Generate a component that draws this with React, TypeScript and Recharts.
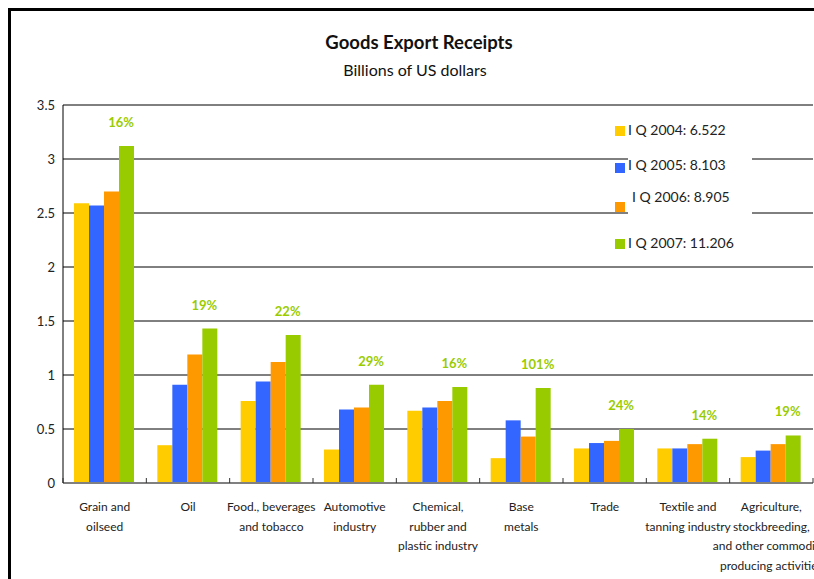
import React from 'react';
import { BarChart, Bar, XAxis, YAxis, CartesianGrid, LabelList } from 'recharts';

const categories: string[][] = [
  ['Grain and', 'oilseed'],
  ['Oil'],
  ['Food., beverages', 'and tobacco'],
  ['Automotive', 'industry'],
  ['Chemical,', 'rubber and', 'plastic industry'],
  ['Base', 'metals'],
  ['Trade'],
  ['Textile and', 'tanning industry'],
  ['Agriculture,', 'stockbreeding,', 'and other commodity-', 'producing activities'],
];
const q2004 = [2.59, 0.35, 0.76, 0.31, 0.67, 0.23, 0.32, 0.32, 0.24];
const q2005 = [2.57, 0.91, 0.94, 0.68, 0.70, 0.58, 0.37, 0.32, 0.30];
const q2006 = [2.70, 1.19, 1.12, 0.70, 0.76, 0.43, 0.39, 0.36, 0.36];
const q2007 = [3.12, 1.43, 1.37, 0.91, 0.89, 0.88, 0.50, 0.41, 0.44];
const growth = ['16%', '19%', '22%', '29%', '16%', '101%', '24%', '14%', '19%'];
const yTicks = [0, 0.5, 1, 1.5, 2, 2.5, 3, 3.5];

const seriesNames = ['I Q 2004: 6.522', 'I Q 2005: 8.103', 'I Q 2006: 8.905', 'I Q 2007: 11.206'];
const seriesKeys = ['q2004', 'q2005', 'q2006', 'q2007'];
const seriesColors = ['#FFCC00', '#3366FF', '#FF9900', '#99CC00'];

const data = categories.map((c, i) => ({
  name: c.join(' '),
  lines: c,
  q2004: q2004[i],
  q2005: q2005[i],
  q2006: q2006[i],
  q2007: q2007[i],
  pct: growth[i],
}));

const CategoryTick = (props: any) => {
  const { x, y, payload, index } = props;
  const row = data[index] || data.find((d) => d.name === payload.value);
  const lines: string[] = row ? row.lines : [String(payload.value)];
  const half = payload && typeof payload.offset === 'number' && payload.offset > 0 ? payload.offset : 750 / 18;
  const axisY = y - 8;
  return (
    <g>
      <line x1={x + half} x2={x + half} y1={axisY} y2={axisY - 5} stroke="#333" strokeWidth={1} />
      {index === 0 && <line x1={x - half} x2={x - half} y1={axisY} y2={axisY - 5} stroke="#333" strokeWidth={1} />}
      {lines.map((l, i) => (
        <text key={i} x={x} y={axisY + 28 + i * 19.7} textAnchor="middle" fontSize={12} fill="#222">
          {l}
        </text>
      ))}
    </g>
  );
};

const PctLabel = (props: any) => {
  const { x, y, value } = props;
  return (
    <text x={Number(x) + 2} y={Number(y) - 19} textAnchor="middle" fontSize={13} fontWeight="bold" fill="#99CC00">
      {value}
    </text>
  );
};

export default function App() {
  return (
    <div style={{ position: 'fixed', left: 8, top: 8, width: 806, height: 571, overflow: 'hidden', fontFamily: 'Lato, "Open Sans", sans-serif', background: '#fff' }}>
      <style>{'html,body{overflow:hidden;}'}</style>
      <BarChart
        width={860}
        height={600}
        data={data}
        margin={{ top: 97, right: 55, bottom: 0, left: 0 }}
        barCategoryGap={11}
        barGap={0}
      >
        <CartesianGrid vertical={false} stroke="#000" strokeWidth={1} />
        <XAxis
          dataKey="name"
          height={125}
          interval={0}
          tickLine={false}
          axisLine={{ stroke: '#808080', strokeWidth: 2 }}
          tick={<CategoryTick />}
        />
        <YAxis
          width={55}
          domain={[0, 3.5]}
          ticks={yTicks}
          interval={0}
          tickLine={false}
          axisLine={{ stroke: '#000', strokeWidth: 1 }}
          tick={{ fontSize: 13, fill: '#222' }}
        />
        {seriesKeys.map((k, i) => (
          <Bar key={k} dataKey={k} fill={seriesColors[i]} isAnimationActive={false}>
            {i === 3 && <LabelList dataKey="pct" content={<PctLabel />} />}
          </Bar>
        ))}
      </BarChart>
      <div style={{ position: 'absolute', left: 0, width: 822, top: 23, textAlign: 'center', fontSize: 18.5, fontWeight: 'bold', lineHeight: '22px', color: '#111' }}>
        Goods Export Receipts
      </div>
      <div style={{ position: 'absolute', left: 0, width: 814, top: 51, textAlign: 'center', fontSize: 16, lineHeight: '22px', color: '#111' }}>
        Billions of US dollars
      </div>
      <div style={{ position: 'absolute', left: 620, top: 110, width: 124, height: 137, background: '#fff' }} />
      {seriesNames.map((n, i) => {
        const sqTop = [118, 155, 194, 231][i];
        const txtCenter = [122, 157, 189, 235][i];
        return (
          <React.Fragment key={n}>
            <div style={{ position: 'absolute', left: 607, top: sqTop, width: 10, height: 10, background: seriesColors[i] }} />
            <div style={{ position: 'absolute', left: i === 2 ? 624 : 620, top: txtCenter - 9, lineHeight: '18px', fontSize: 14, color: '#222', whiteSpace: 'nowrap' }}>
              {n}
            </div>
          </React.Fragment>
        );
      })}
      <div style={{ position: 'absolute', left: 0, top: 0, width: 900, height: 700, borderLeft: '3px solid #000', borderTop: '3px solid #000', pointerEvents: 'none' }} />
    </div>
  );
}
